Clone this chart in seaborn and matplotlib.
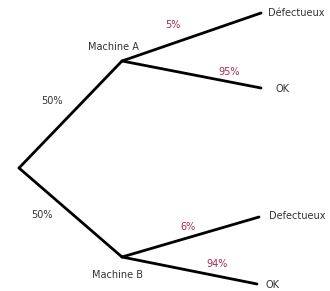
import seaborn as sns
import pandas as pd
import matplotlib.pyplot as plt

# Node positions of the tree (pixel space of the picture).
node_names = ['root', 'A', 'B', 'A_def', 'A_ok', 'B_def', 'B_ok']
node_x = [19, 122, 122, 261, 261, 259, 257]
node_y = [168, 61, 257, 13, 88, 217, 284]

# Branches: (from, to, probability label)
edge_from = ['root', 'root', 'A', 'A', 'B', 'B']
edge_to = ['A', 'B', 'A_def', 'A_ok', 'B_def', 'B_ok']
edge_prob = ['50%', '50%', '5%', '95%', '6%', '94%']

leaf_labels = {'A_def': 'Défectueux', 'A_ok': 'OK', 'B_def': 'Defectueux', 'B_ok': 'OK'}
machine_labels = {'A': 'Machine A', 'B': 'Machine B'}

pos = {n: (x, y) for n, x, y in zip(node_names, node_x, node_y)}

rows = []
for i, (a, b) in enumerate(zip(edge_from, edge_to)):
    rows.append({'edge': i, 'x': pos[a][0], 'y': pos[a][1]})
    rows.append({'edge': i, 'x': pos[b][0], 'y': pos[b][1]})
edges = pd.DataFrame(rows)

sns.set_style('white')
fig = plt.figure(figsize=(3.30, 2.91), dpi=100)
ax = fig.add_axes([0, 0, 1, 1])

sns.lineplot(data=edges, x='x', y='y', units='edge', estimator=None, sort=False,
             color='black', linewidth=2.0, ax=ax, legend=False)

grey = '#333333'
red = '#a8284f'
fs = 7

# Leaf labels
leaf_off = {'A_def': (7, 0), 'A_ok': (14, 1), 'B_def': (10, -1), 'B_ok': (9, 1)}
for n, txt in leaf_labels.items():
    dx, dy = leaf_off[n]
    ax.text(pos[n][0] + dx, pos[n][1] + dy, txt, fontsize=fs, color=grey,
            ha='left', va='center')

# Machine labels
ax.text(pos['A'][0] - 9, pos['A'][1] - 14, machine_labels['A'], fontsize=fs,
        color=grey, ha='center', va='center')
ax.text(pos['B'][0] - 5, pos['B'][1] + 18, machine_labels['B'], fontsize=fs,
        color=grey, ha='center', va='center')

# Probability labels
prob_pos = [(52, 101), (42, 215), (173, 25), (229, 72), (188, 227), (217, 264)]
prob_col = [grey, grey, red, red, red, red]
for txt, (x, y), c in zip(edge_prob, prob_pos, prob_col):
    ax.text(x, y, txt, fontsize=fs, color=c, ha='center', va='center')

ax.set_xlim(0, 330)
ax.set_ylim(291, 0)
ax.axis('off')

fig.savefig('out.png', dpi=100)
